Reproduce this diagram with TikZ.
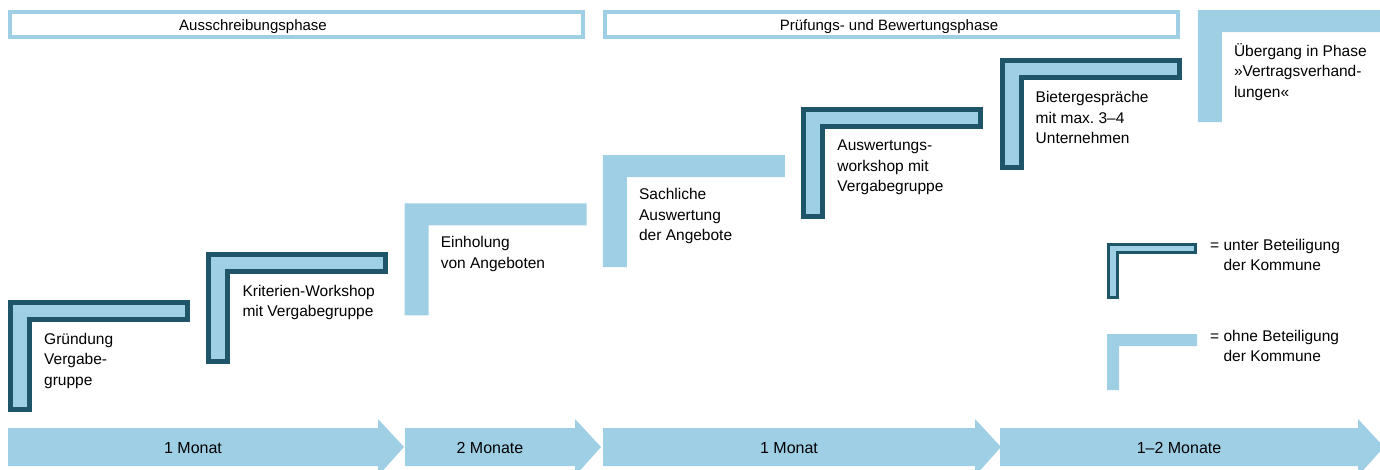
\documentclass[tikz,border=0pt]{standalone}
\usepackage{fontspec}
\setmainfont{Liberation Sans}
\usepackage{tikz}
\usetikzlibrary{positioning,calc}
\frenchspacing
\definecolor{hellblau}{HTML}{9FCFE5}
\definecolor{dunkel}{HTML}{1F5569}
\tikzset{
	stufe/.style={fill=hellblau,draw=none},
	stufeK/.style={fill=hellblau,draw=dunkel,line width=5pt},
	txt/.style={anchor=north west,align=left,inner sep=0pt,font=\fontsize{15.5}{20.5}\selectfont},
	pfeil/.style={fill=hellblau,draw=none},
	phase/.style={draw=hellblau,line width=4pt,fill=white}
}

\begin{document}
\begin{tikzpicture}[x=1pt,y=-1pt]
	\def\dx{198.3};
	\def\dy{48.3};
	\def\breite{182}
	\def\hoehe{112}
	\useasboundingbox (0,0) rectangle (1380,470);
	\clip (0,0) rectangle (1380,470); % alles rechts abschneiden
	
	%Phasen oben
	\draw[phase] (10,12) rectangle (583,37);
	\node[txt,anchor=center,font=\fontsize{15}{18}\selectfont] (ausschr) at (253,26.5) {Ausschreibungsphase};
	\draw[phase] (605,12) rectangle (1178,37);
	\node[txt,anchor=center,font=\fontsize{15}{18}\selectfont] (pruef) at (889,26.5) {Prüfungs- und Bewertungsphase};
	
	%Stufen
	\foreach \i/\stil/\d/\txt in {
		0/stufeK/2.5/{Gründung\\Vergabe-\\gruppe},
		1/stufeK/2.5/{Kriterien-Workshop\\mit Vergabegruppe},
		2/stufe/0/{Einholung\\von Angeboten},
		3/stufe/0/{Sachliche\\Auswertung\\der Angebote},
		4/stufeK/2.5/{Auswertungs-\\workshop mit\\Vergabegruppe},
		5/stufeK/2.5/{Bietergespräche\\mit max. 3--4\\Unternehmen},
		6/stufe/0/{Übergang in Phase\\»Vertragsverhand-\\lungen«}}{
		\path[\stil] ({8+\dx*\i+\d},{300-\dy*\i+\hoehe-\d}) -- ++(0,{-\hoehe+2*\d}) -- ++({\breite-2*\d},0) -- ++(0,{22-2*\d}) -- ++({-\breite+24},0) -- ++(0,{\hoehe-22}) -- cycle;
		\node[txt] (s\i) at ({8+\dx*\i+36},{300-\dy*\i+33}) {\txt};
	}
	
	%Legende
	\path[stufeK,line width=3pt] (1108.5,297.5) -- (1108.5,244.5) -- (1195.5,244.5) -- (1195.5,252.5) -- (1117.5,252.5) -- (1117.5,297.5) -- cycle;
	\node[txt] (leg1) at (1210,239) {= unter Beteiligung\\\phantom{= }der Kommune};
	\path[stufe] (1107,390) -- (1107,334) -- (1197,334) -- (1197,346) -- (1119,346) -- (1119,390) -- cycle;
	\node[txt] (leg2) at (1210,330) {= ohne Beteiligung\\\phantom{= }der Kommune};
	
	%Zeitpfeile
	\foreach \a/\b/\t in {8/378/1 Monat, 405/575/2 Monate, 603/975/1 Monat, 1000/1358/1--2 Monate}{
		\path[pfeil] (\a,428) -- (\b,428) -- (\b,419) -- ({\b+26},447) -- (\b,476) -- (\b,466) -- (\a,466) -- cycle;
		\node[txt,anchor=center,font=\fontsize{16}{18}\selectfont] at ({(\a+\b)/2},448) {\t};
	}
	
\end{tikzpicture}
\end{document}
